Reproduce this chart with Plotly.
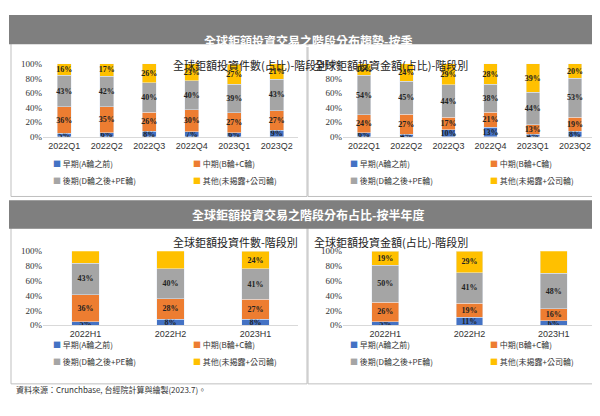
import plotly.graph_objects as go

quarters = ["2022Q1", "2022Q2", "2022Q3", "2022Q4", "2023Q1", "2023Q2"]
halves = ["2022H1", "2022H2", "2023H1"]
series_names = ["早期(A輪之前)", "中期(B輪+C輪)", "後期(D輪之後+PE輪)", "其他(未揭露+公司輪)"]
colors = ["#4472C4", "#ED7D31", "#A5A5A5", "#FFC000"]

q_count_early = [5, 6, 8, 7, 6, 9]
q_count_mid = [36, 35, 26, 30, 27, 27]
q_count_late = [43, 42, 40, 40, 39, 43]
q_count_other = [16, 17, 26, 23, 27, 21]

q_amt_early = [6, 4, 10, 13, 4, 8]
q_amt_mid = [24, 27, 17, 21, 13, 19]
q_amt_late = [54, 45, 44, 38, 44, 53]
q_amt_other = [16, 24, 29, 28, 39, 20]

h_count_early = [5, 8, 8]
h_count_mid = [36, 28, 27]
h_count_late = [43, 40, 41]
h_count_other = [17, 25, 24]

h_amt_early = [5, 11, 6]
h_amt_mid = [26, 19, 16]
h_amt_late = [50, 41, 48]
h_amt_other = [19, 29, 31]

W, H = 600, 416
def fy(px): return 1 - px / H
def fx(px): return px / W

panels = [
    dict(cats=quarters, data=[q_count_early, q_count_mid, q_count_late, q_count_other],
         title="全球鉅額投資件數(占比)-階段別", x=(35, 290), y=(52, 127), box=(3, 31, 299, 188)),
    dict(cats=quarters, data=[q_amt_early, q_amt_mid, q_amt_late, q_amt_other],
         title="全球鉅額投資金額(占比)-階段別", x=(335, 588), y=(52, 127), box=(300, 31, 597, 188)),
    dict(cats=halves, data=[h_count_early, h_count_mid, h_count_late, h_count_other],
         title="全球鉅額投資件數-階段別", x=(35, 290), y=(244, 320), box=(3, 220, 299, 380)),
    dict(cats=halves, data=[h_amt_early, h_amt_mid, h_amt_late, h_amt_other],
         title="全球鉅額投資金額(占比)-階段別", x=(335, 588), y=(244, 320), box=(300, 220, 597, 380)),
]

fig = go.Figure()
shapes, annots = [], []
layout = {}
for i, p in enumerate(panels):
    n = i + 1
    xa = "x" if n == 1 else f"x{n}"
    ya = "y" if n == 1 else f"y{n}"
    for s in range(4):
        fig.add_trace(go.Bar(
            x=p["cats"], y=p["data"][s], name=series_names[s], marker_color=colors[s],
            text=[f"<b>{v}%</b>" for v in p["data"][s]], textposition="inside", insidetextanchor="middle",
            textangle=0, textfont=dict(family="Liberation Serif", size=8, color="#222"), constraintext="none",
            width=0.32, xaxis=xa, yaxis=ya, showlegend=False, cliponaxis=False))
    layout["xaxis" if n == 1 else f"xaxis{n}"] = dict(
        domain=[fx(p["x"][0]), fx(p["x"][1])], anchor=ya, showline=True, linecolor="#d9d9d9",
        tickfont=dict(family="Liberation Sans", size=9, color="#333"), ticks="", fixedrange=True)
    layout["yaxis" if n == 1 else f"yaxis{n}"] = dict(
        domain=[fy(p["y"][1]), fy(p["y"][0])], anchor=xa, range=[0, 100], dtick=20,
        ticksuffix="%", showgrid=False, zeroline=False,
        tickfont=dict(family="Liberation Serif", size=9, color="#333"))
    bx0, by0, bx1, by1 = p["box"]
    shapes.append(dict(type="rect", xref="paper", yref="paper", x0=fx(bx0), x1=fx(bx1),
                       y0=fy(by1), y1=fy(by0), line=dict(color="#bfbfbf", width=1)))
    annots.append(dict(text=p["title"], xref="paper", yref="paper", x=fx((p["x"][0] + p["x"][1]) / 2),
                       y=fy(p["y"][0] - 9), showarrow=False,
                       font=dict(size=11, color="#222", family="Noto Sans CJK TC")))
    # legend as 2x2 grid of annotations
    for s in range(4):
        lx = bx0 + 40 + (s % 2) * 140
        ly = p["y"][1] + 27 + (s // 2) * 18
        annots.append(dict(text=f"<span style='color:{colors[s]}'>■</span> {series_names[s]}",
                           xref="paper", yref="paper", x=fx(lx), y=fy(ly), xanchor="left", showarrow=False,
                           font=dict(size=8, color="#333", family="Noto Sans CJK TC")))

for (y0, y1, t) in [(3, 31, "全球鉅額投資交易之階段分布趨勢-按季"), (193, 220, "全球鉅額投資交易之階段分布占比-按半年度")]:
    shapes.append(dict(type="rect", xref="paper", yref="paper", x0=fx(2), x1=fx(598), y0=fy(y1), y1=fy(y0),
                       fillcolor="#7f7f7f", line=dict(color="#7f7f7f")))
    annots.append(dict(text=f"<b>{t}</b>", xref="paper", yref="paper", x=0.5, y=fy((y0 + y1) / 2),
                       showarrow=False, font=dict(size=12, color="white", family="Noto Sans CJK TC")))

annots.append(dict(text="資料來源：Crunchbase, 台經院計算與繪製(2023.7)。", xref="paper", yref="paper",
                   x=fx(6), y=fy(393), xanchor="left", showarrow=False,
                   font=dict(size=8, color="#333", family="Noto Sans CJK TC")))

fig.update_layout(width=W, height=H, margin=dict(l=0, r=0, t=0, b=0), barmode="stack",
                  plot_bgcolor="white", paper_bgcolor="white", shapes=shapes, annotations=annots,
                  uniformtext=dict(minsize=6, mode="show"), **layout)
fig.write_html("out.html")
